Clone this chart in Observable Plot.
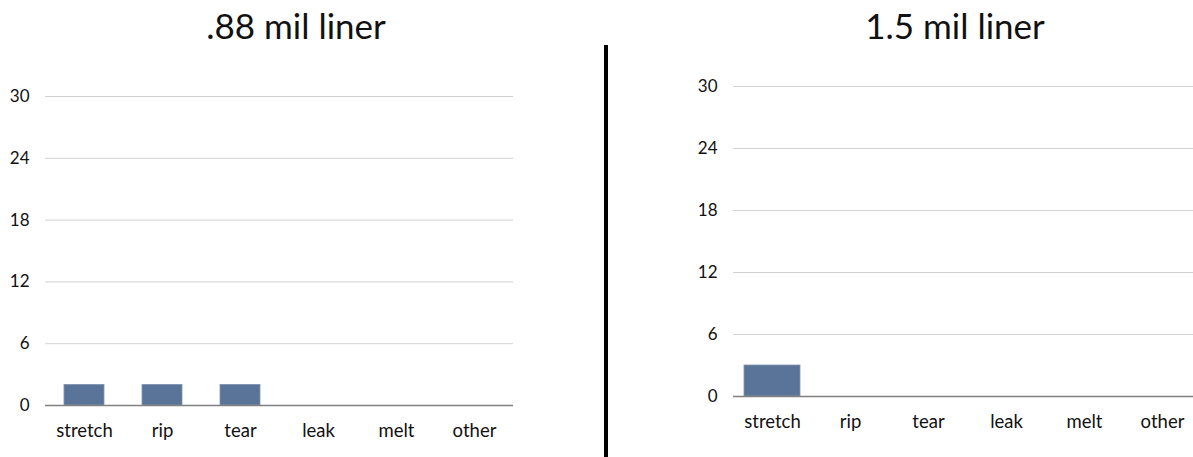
<!DOCTYPE html>
<html>
<head>
<meta charset="utf-8">
<script src="https://cdn.jsdelivr.net/npm/d3@7"></script>
<script src="https://cdn.jsdelivr.net/npm/@observablehq/plot@0.6"></script>
<style>
  html, body { margin: 0; padding: 0; background: #fff; }
  #stage { position: relative; width: 1193px; height: 457px; overflow: hidden; font-family: Lato, "Open Sans", sans-serif; }
  .title { position: absolute; top: 8px; font-size: 35px; line-height: 1; color: #111; white-space: nowrap; transform: translateX(-50%); }
  .panel { position: absolute; top: 0; height: 457px; overflow: hidden; }
  .panel svg { max-width: none !important; }
  .divider { position: absolute; left: 604px; top: 45px; width: 4px; height: 412px; background: #000; }
  .panel svg g[aria-label="x-axis tick label"] { font-size: 18.5px; }
</style>
</head>
<body>
<div id="stage">
  <div class="title" style="left:296px">.88 mil liner</div>
  <div class="title" style="left:955px">1.5 mil liner</div>
  <div id="left" class="panel" style="left:0;width:600px"></div>
  <div class="divider"></div>
  <div id="right" class="panel" style="left:600px;width:593px"></div>
</div>
<script>
// failure categories and counts for each liner thickness
const categories = ["stretch", "rip", "tear", "leak", "melt", "other"];
const countsThin = [2, 2, 2, 0, 0, 0];   // .88 mil liner
const countsThick = [3, 0, 0, 0, 0, 0];  // 1.5 mil liner
const yTicks = [0, 6, 12, 18, 24, 30];

const barColor = "#5a7398";

function panel(counts, opts) {
  const data = categories.map((c, i) => ({category: c, count: counts[i]}));
  return Plot.plot({
    width: opts.width,
    height: 457,
    marginTop: opts.marginTop,
    marginBottom: opts.marginBottom,
    marginLeft: opts.marginLeft,
    marginRight: opts.marginRight,
    style: {fontFamily: "Lato, 'Open Sans', sans-serif", fontSize: "17px", color: "#111", background: "transparent"},
    x: {domain: categories, paddingInner: opts.padding, paddingOuter: opts.padding / 2, label: null, tickSize: 0, tickPadding: 18},
    y: {domain: [0, 30], ticks: yTicks, label: null, tickSize: 0, tickPadding: 16},
    marks: [
      Plot.ruleY(yTicks.filter(d => d > 0), {stroke: "#d2d2d2", strokeWidth: 1}),
      Plot.barY(data.filter(d => d.count > 0), {x: "category", y: "count", fill: barColor, stroke: "#7f93b0", strokeWidth: 0.8}),
      Plot.ruleY([0], {stroke: "#808080", strokeWidth: 1.3})
    ]
  });
}

document.getElementById("left").append(panel(countsThin, {
  width: 600, marginTop: 96, marginBottom: 52, marginLeft: 45, marginRight: 87, padding: 0.49
}));
document.getElementById("right").append(panel(countsThick, {
  width: 601, marginTop: 86, marginBottom: 61, marginLeft: 133, marginRight: 0, padding: 0.28
}));
</script>
</body>
</html>
